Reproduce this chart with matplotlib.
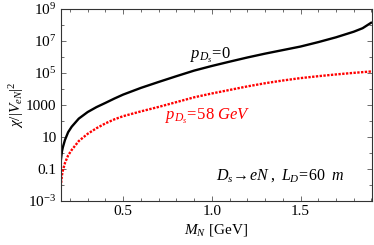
import matplotlib
matplotlib.use("Agg")
import matplotlib.pyplot as plt
from matplotlib.ticker import FixedLocator, FixedFormatter, MultipleLocator, NullFormatter

plt.rcParams['font.family'] = ['Liberation Serif', 'DejaVu Serif']
plt.rcParams['mathtext.fontset'] = 'custom'
plt.rcParams['mathtext.rm'] = 'Liberation Serif'
plt.rcParams['mathtext.it'] = 'Liberation Serif:italic'

# Data
m_black = [0.148, 0.155, 0.16, 0.172, 0.19, 0.21, 0.25, 0.30, 0.35, 0.40, 0.45,
           0.50, 0.60, 0.70, 0.80, 0.90, 1.00, 1.10, 1.20, 1.30, 1.40, 1.50,
           1.60, 1.70, 1.80, 1.85, 1.903]
chi_black = [0.29, 1.26, 2.24, 6.5, 20, 44, 141, 363, 741, 1350, 2510,
             4470, 1.17e4, 2.75e4, 6.3e4, 1.41e5, 2.75e5, 5.1e5, 9.3e5, 1.62e6, 2.7e6, 4.5e6,
             8.5e6, 1.7e7, 3.8e7, 6.3e7, 1.5e8]

m_red = [0.148, 0.155, 0.16, 0.172, 0.19, 0.21, 0.25, 0.30, 0.35, 0.40, 0.45,
         0.50, 0.60, 0.70, 0.80, 0.90, 1.00, 1.10, 1.20, 1.30, 1.40, 1.50,
         1.60, 1.70, 1.80, 1.903]
chi_red = [0.0079, 0.040, 0.079, 0.237, 0.71, 1.55, 5.6, 15.8, 35.5, 70.8, 126,
           200, 398, 759, 1510, 3020, 5250, 8710, 1.45e4, 2.29e4, 3.39e4, 4.79e4,
           6.31e4, 8.13e4, 1.02e5, 1.26e5]

ytick_vals = [1e-3, 1e-1, 1e1, 1e3, 1e5, 1e7, 1e9]
ytick_labels = [r'$10^{-3}$', '0.1', '10', '1000', r'$10^{5}$', r'$10^{7}$', r'$10^{9}$']
xtick_vals = [0.5, 1.0, 1.5]
xtick_labels = ['0.5', '1.0', '1.5']

W, H = 374, 245
fig = plt.figure(figsize=(W / 100, H / 100), dpi=100)
ax = fig.add_axes([0.1623, 0.1796, 0.9947 - 0.1623, 0.9633 - 0.1796])

ax.plot(m_black, chi_black, color='black', lw=1.7, solid_capstyle='butt')
ax.plot(m_red, chi_red, color='red', lw=1.7, linestyle=(0, (1, 0.6)))

ax.set_yscale('log')
ax.set_xlim(0.148, 1.903)
ax.set_ylim(1e-3, 1e9)

ax.yaxis.set_major_locator(FixedLocator(ytick_vals))
ax.yaxis.set_major_formatter(FixedFormatter(ytick_labels))
ax.yaxis.set_minor_locator(FixedLocator([10.0**k for k in range(-3, 10)]))
ax.yaxis.set_minor_formatter(NullFormatter())
ax.xaxis.set_major_locator(FixedLocator(xtick_vals))
ax.xaxis.set_major_formatter(FixedFormatter(xtick_labels))
ax.xaxis.set_minor_locator(MultipleLocator(0.1))
ax.xaxis.set_minor_formatter(NullFormatter())

ax.tick_params(which='both', direction='in', top=True, right=True, labelsize=11,
               color='#555555', width=0.6)
ax.tick_params(which='major', length=3.5, pad=3)
ax.tick_params(which='minor', length=2)
for s in ax.spines.values():
    s.set_color('#333333')
    s.set_linewidth(0.8)

ax.set_xlabel(r'$M_N$ [GeV]', fontsize=11, labelpad=3)
ax.set_ylabel(r'$\chi/|V_{eN}|^2$', fontsize=11, labelpad=0)


def px(x, y):
    # image pixel coords (origin top-left) -> figure fraction
    return x / W, 1 - y / H


ax.text(*px(211, 55), r'$p_{D_s}\!=\!0$', transform=fig.transFigure, fontsize=12,
        ha='center', va='center')
ax.text(*px(208, 116), r'$p_{D_s}\!=\!58\ GeV$', transform=fig.transFigure, fontsize=12,
        ha='center', va='center', color='red')
ax.text(*px(280, 176), r'$D_s\!\rightarrow\! eN\ ,\ L_D\!=\!60\ \ m$',
        transform=fig.transFigure, fontsize=11.5, ha='center', va='center')

fig.savefig('out.png', dpi=100)
